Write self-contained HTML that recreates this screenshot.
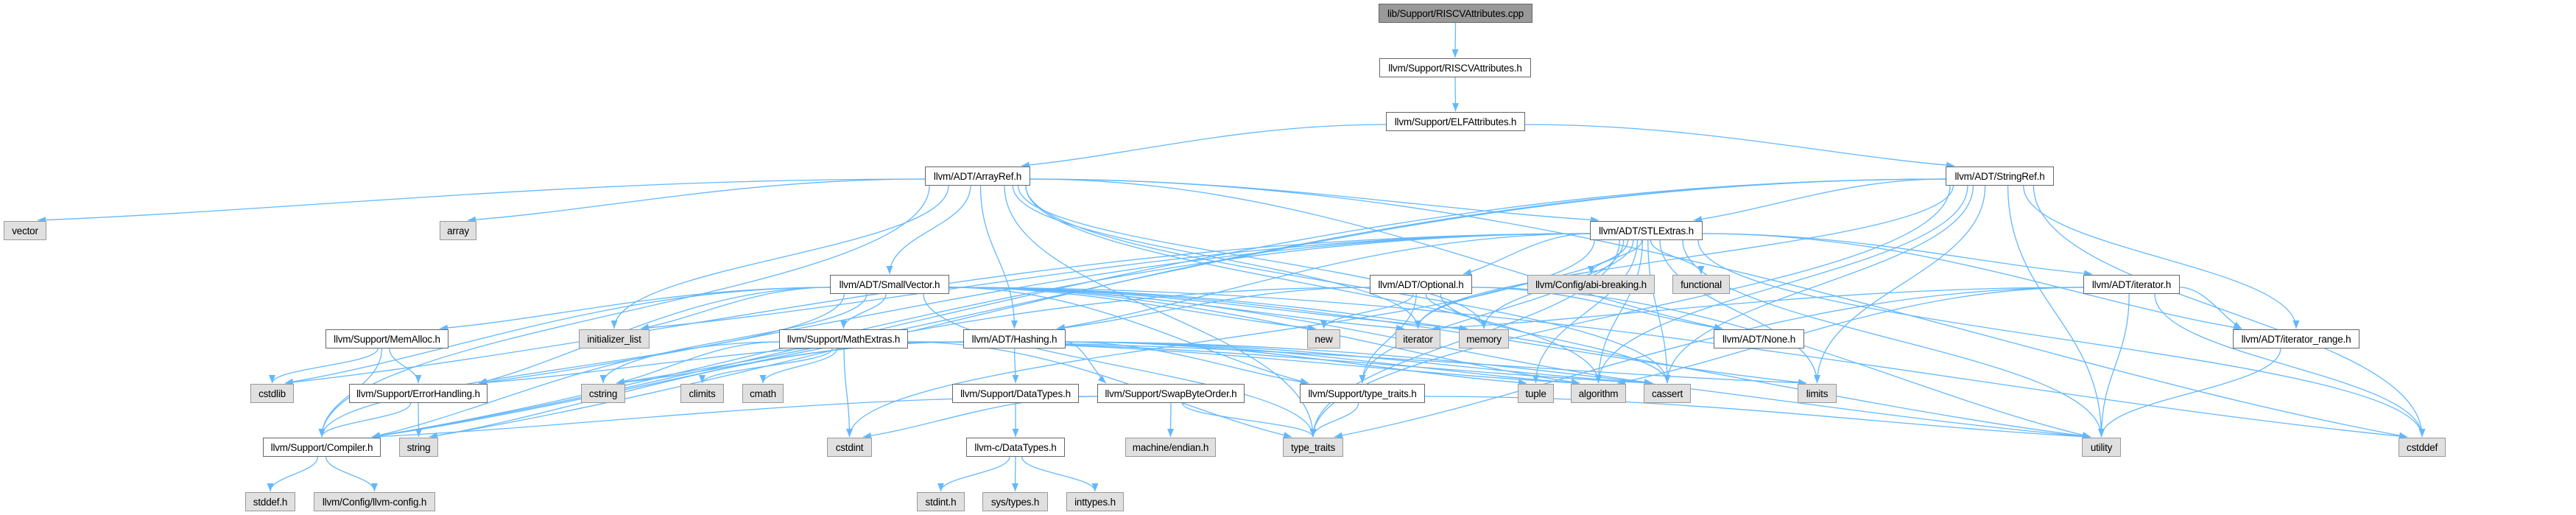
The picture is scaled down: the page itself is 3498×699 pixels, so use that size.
<!DOCTYPE html>
<html><head><meta charset="utf-8"><style>
html,body{margin:0;padding:0;background:#fff;}
#c{position:relative;width:3498px;height:699px;overflow:hidden;}
svg{position:absolute;left:0;top:0;}
.n{position:absolute;box-sizing:border-box;border:1.5px solid #666;background:#fff;font-family:"Liberation Sans",sans-serif;font-size:13.5px;color:#000;display:flex;align-items:center;justify-content:center;white-space:nowrap;letter-spacing:-0.2px;}
.g{background:#e0e0e0;border-color:#999;}
.d{background:#999;border-color:#666;}
</style></head><body><div id="c">
<svg id="s" width="3498" height="699" viewBox="0 0 3498 699">
<defs><marker id="a" markerUnits="userSpaceOnUse" markerWidth="12" markerHeight="10" refX="11" refY="4.5" orient="auto"><path d="M0,0 L11,4.5 L0,9 z" fill="#63b8ff"/></marker></defs>
<g id="e" fill="none" stroke="#63b8ff" stroke-width="1.3"></g>
</svg>
<div id="nodes"></div>
</div>
<script>
var N={
cpp:[1872,2081,5,31,"lib/Support/RISCVAttributes.cpp","d"],
rh:[1873,2079,79,105,"llvm/Support/RISCVAttributes.h",""],
elf:[1882,2071,152,178,"llvm/Support/ELFAttributes.h",""],
ar:[1256,1399,226,252,"llvm/ADT/ArrayRef.h",""],
sr:[2642,2789,226,252,"llvm/ADT/StringRef.h",""],
vector:[5,63,300,326,"vector","g"],
array:[597,647,300,326,"array","g"],
stl:[2159,2312,300,326,"llvm/ADT/STLExtras.h",""],
sv:[1127,1289,373,399,"llvm/ADT/SmallVector.h",""],
opt:[1860,1999,373,399,"llvm/ADT/Optional.h",""],
abi:[2074,2247,373,399,"llvm/Config/abi-breaking.h","g"],
functional:[2271,2349,373,399,"functional","g"],
ith:[2829,2960,373,399,"llvm/ADT/iterator.h",""],
mem:[442,609,447,473,"llvm/Support/MemAlloc.h",""],
il:[786,882,447,473,"initializer_list","g"],
math:[1058,1233,447,473,"llvm/Support/MathExtras.h",""],
hash:[1308,1447,447,473,"llvm/ADT/Hashing.h",""],
new_:[1775,1820,447,473,"new","g"],
iterator:[1895,1956,447,473,"iterator","g"],
memory:[1981,2049,447,473,"memory","g"],
none:[2327,2450,447,473,"llvm/ADT/None.h",""],
ir:[3032,3204,447,473,"llvm/ADT/iterator_range.h",""],
cstdlib:[340,399,521,547,"cstdlib","g"],
eh:[474,662,521,547,"llvm/Support/ErrorHandling.h",""],
cstring:[789,849,521,547,"cstring","g"],
climits:[924,983,521,547,"climits","g"],
cmath:[1008,1064,521,547,"cmath","g"],
dt:[1293,1465,521,547,"llvm/Support/DataTypes.h",""],
sbo:[1490,1690,521,547,"llvm/Support/SwapByteOrder.h",""],
tth:[1765,1935,521,547,"llvm/Support/type_traits.h",""],
tuple:[2061,2110,521,547,"tuple","g"],
algorithm:[2133,2208,521,547,"algorithm","g"],
cassert:[2232,2296,521,547,"cassert","g"],
limits:[2441,2494,521,547,"limits","g"],
comp:[357,517,594,620,"llvm/Support/Compiler.h",""],
string:[542,595,594,620,"string","g"],
cstdint:[1123,1184,594,620,"cstdint","g"],
cdt:[1312,1446,594,620,"llvm-c/DataTypes.h",""],
endian:[1528,1651,594,620,"machine/endian.h","g"],
tt:[1742,1824,594,620,"type_traits","g"],
utility:[2827,2880,594,620,"utility","g"],
cstddef:[3257,3321,594,620,"cstddef","g"],
stddef:[333,401,668,694,"stddef.h","g"],
cfg:[426,591,668,694,"llvm/Config/llvm-config.h","g"],
stdint:[1245,1310,668,694,"stdint.h","g"],
systypes:[1334,1423,668,694,"sys/types.h","g"],
inttypes:[1448,1526,668,694,"inttypes.h","g"]
};
var E={
cpp:["rh"],rh:["elf"],elf:["ar","sr"],
ar:["vector","array","il","comp","sv","hash","stl","none","algorithm","cassert","cstddef","iterator","memory","tt"],
sr:["stl","ir","comp","cassert","cstddef","cstring","limits","string","tt","utility","algorithm","iterator"],
stl:["opt","abi","functional","ith","ir","eh","tth","algorithm","cassert","cstddef","cstdint","cstdlib","il","iterator","limits","memory","tuple","tt","utility","comp","hash"],
sv:["mem","comp","tth","math","algorithm","cassert","cstddef","cstdlib","cstring","il","iterator","limits","memory","new_","tt","utility","eh"],
opt:["hash","none","comp","tth","cassert","memory","new_","utility"],
hash:["dt","eh","sbo","tth","algorithm","cassert","cstring","string","tuple","utility"],
math:["comp","algorithm","cassert","climits","cmath","cstdint","cstring","limits","tt"],
mem:["comp","eh","cstdlib"],eh:["comp","string"],comp:["stddef","cfg"],
dt:["cdt"],cdt:["stdint","systypes","inttypes"],
sbo:["comp","cstdint","endian","tt"],tth:["tt","utility"],
ith:["ir","algorithm","cstddef","iterator","tt","utility"],ir:["utility"]
};
var h="";
for(var k in N){var n=N[k];h+='<div class="n '+n[5]+'" style="left:'+n[0]+'px;top:'+n[2]+'px;width:'+(n[1]-n[0])+'px;height:'+(n[3]-n[2])+'px">'+n[4]+'</div>';}
document.getElementById("nodes").innerHTML=h;
var p="";
for(var s in E){var a=N[s];var cx=(a[0]+a[1])/2;
E[s].forEach(function(t){var b=N[t];var tx=(b[0]+b[1])/2;var ty=b[2];
var sx=cx+(tx-cx)*0.08;sx=Math.max(a[0]+6,Math.min(a[1]-6,sx));var sy=a[3];
var dy=ty-sy;
if(Math.abs(tx-sx)>dy*4){ // mostly horizontal: leave from side, enter side/top
 var dir=tx>cx?1:-1;sx=dir>0?a[1]:a[0];sy=(a[2]+a[3])/2+ (dy>0?4:0);
 var ex=dir>0?b[0]+Math.min(12,(b[1]-b[0])/3):b[1]-Math.min(12,(b[1]-b[0])/3);var ey=b[2]-1;
 p+='<path marker-end="url(#a)" d="M'+sx+','+sy+' C'+(sx+dir*Math.abs(ex-sx)*0.4)+','+sy+' '+(ex-dir*Math.abs(ex-sx)*0.3)+','+(ey-dy*0.3)+' '+ex+','+ey+'"/>';
}else{
 p+='<path marker-end="url(#a)" d="M'+sx+','+sy+' C'+sx+','+(sy+dy*0.45)+' '+tx+','+(ty-dy*0.45)+' '+tx+','+(ty-1)+'"/>';
}});}
document.getElementById("e").innerHTML=p;
</script>
</body></html>
